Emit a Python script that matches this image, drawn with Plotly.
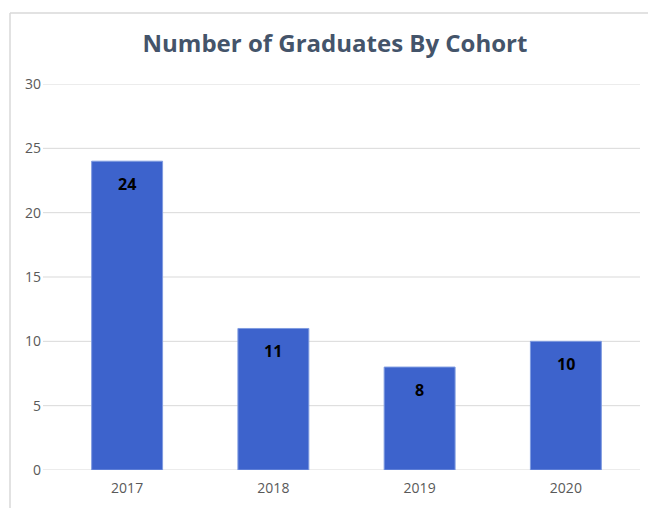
import plotly.graph_objects as go

cohorts = ["2017", "2018", "2019", "2020"]
graduates = [24, 11, 8, 10]
y_ticks = [0, 5, 10, 15, 20, 25, 30]

W, H = 648, 508
L, R, T, B = 54, 9, 84, 38
pw, ph = W - L - R, H - T - B

def px(x):
    return (x - L) / pw

def py(y):
    return (H - B - y) / ph

fig = go.Figure()
fig.add_trace(go.Bar(
    x=cohorts, y=graduates,
    marker=dict(color="#3D63CC", line=dict(color="#7F9BE0", width=1)),
    width=0.485,
    hoverinfo="x+y",
))

annotations = []
for i, v in enumerate(graduates):
    annotations.append(dict(x=i, y=v, xref="x", yref="y", text=str(v), showarrow=False,
                            yanchor="top", yshift=-10,
                            font=dict(family="Open Sans", size=16, color="#000000", weight="bold")))

shapes = []
for t in y_ticks:
    shapes.append(dict(type="line", xref="paper", yref="y", x0=px(43), x1=px(640), y0=t, y1=t,
                       line=dict(color="#D9D9D9", width=1), layer="below"))
# chart border (top and left)
shapes.append(dict(type="line", xref="paper", yref="paper", x0=px(10), x1=px(648), y0=py(13), y1=py(13),
                   line=dict(color="#D9D9D9", width=1.5)))
shapes.append(dict(type="line", xref="paper", yref="paper", x0=px(10), x1=px(10), y0=py(13), y1=py(510),
                   line=dict(color="#D9D9D9", width=1.5)))

fig.update_layout(
    width=W, height=H,
    margin=dict(l=L, r=R, t=T, b=B),
    paper_bgcolor="white", plot_bgcolor="white",
    title=dict(text="<b>Number of Graduates By Cohort</b>", x=335 / W, xanchor="center",
               y=1 - 44 / H, yanchor="middle", yref="container",
               font=dict(family="Open Sans", size=24, color="#44546A")),
    xaxis=dict(type="category", categoryorder="array", categoryarray=cohorts,
               range=[-0.5, len(cohorts) - 0.5],
               showgrid=False, showline=False, zeroline=False, ticks="",
               tickfont=dict(family="Open Sans", size=14, color="#595959"), ticklabelstandoff=8),
    yaxis=dict(range=[0, 30], tickvals=y_ticks, showgrid=False, zeroline=False, showline=False,
               tickfont=dict(family="Open Sans", size=14, color="#595959"), ticklabelstandoff=12),
    shapes=shapes,
    annotations=annotations,
    showlegend=False,
    bargap=0.515,
)

fig.write_html("out.html")
